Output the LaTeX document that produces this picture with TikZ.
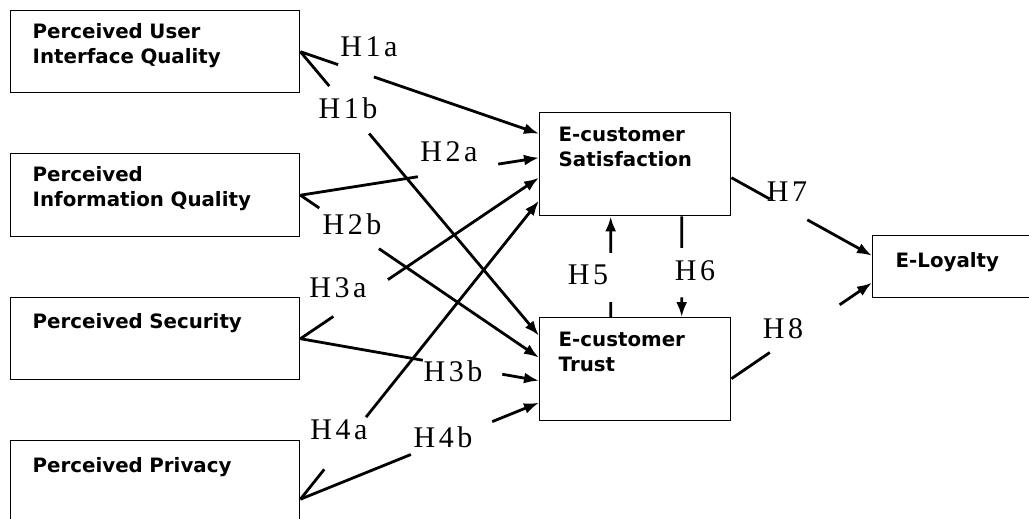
\documentclass[tikz,border=0pt]{standalone}
\usepackage{fontspec}
\newfontfamily\boxfont{DejaVu Sans}
\newfontfamily\hypfont[LetterSpace=12]{Liberation Serif}
\usetikzlibrary{arrows.meta,calc}

\tikzset{
    construct/.style={draw, rectangle, line width=1.4pt, anchor=north west,
        inner ysep=0pt, inner xsep=22pt, align=left,
        font=\boxfont\bfseries\fontsize{19.8}{25}\selectfont},
    hlabel/.style={inner sep=0pt, font=\hypfont\fontsize{30}{30}\selectfont},
    hyp/.style={line width=2.8pt, -{Latex[length=15pt,width=11pt]}}
}

\begin{document}
\begin{tikzpicture}[x=1pt,y=-1pt]
    \useasboundingbox (0,0) rectangle (1029,519);
    \clip (0,0) rectangle (1029,519);

    % constructs
    \node[construct, text width=245pt, text height=28pt, text depth=54pt] (uiq) at (10,10) {Perceived User\\Interface Quality};
    \node[construct, text width=245pt, text height=28pt, text depth=55pt] (iq)  at (10,153) {Perceived\\Information Quality};
    \node[construct, text width=245pt, text height=31pt, text depth=51pt] (sec) at (10,297) {Perceived Security};
    \node[construct, text width=245pt, text height=32pt, text depth=85pt] (pri) at (10,440) {Perceived Privacy};

    \node[construct, inner xsep=19pt, text width=153pt, text height=29pt, text depth=74pt] (sat) at (539,112) {E-customer\\Satisfaction};
    \node[construct, inner xsep=19pt, text width=153pt, text height=29pt, text depth=74pt] (tru) at (539,317) {E-customer\\Trust};
    \node[construct, inner xsep=23pt, text width=200pt, text height=32pt, text depth=30pt] (loy) at (872,235) {E-Loyalty};

    % hypothesis labels
    \node[hlabel] (h1a) at (369,47)  {H1a};
    \node[hlabel] (h1b) at (348,108) {H1b};
    \node[hlabel] (h2a) at (449,152) {H2a};
    \node[hlabel] (h2b) at (352,224) {H2b};
    \node[hlabel] (h3a) at (338,288) {H3a};
    \node[hlabel] (h3b) at (453,371) {H3b};
    \node[hlabel] (h4a) at (339,430) {H4a};
    \node[hlabel] (h4b) at (443,437) {H4b};
    \node[hlabel] (h5)  at (588,275) {H5};
    \node[hlabel] (h6)  at (695,271) {H6};
    \node[hlabel] (h7)  at (787,192) {H7};
    \node[hlabel] (h8)  at (783,329) {H8};

    % where the arrows meet the boxes
    \coordinate (sat-a) at ([yshift=30.5pt]sat.west);
    \coordinate (sat-b) at ([yshift=6.5pt]sat.west);
    \coordinate (sat-c) at ([yshift=-13.5pt]sat.west);
    \coordinate (sat-d) at ([yshift=-36.5pt]sat.west);
    \coordinate (tru-a) at ([yshift=33.5pt]tru.west);
    \coordinate (tru-b) at ([yshift=11.5pt]tru.west);
    \coordinate (tru-c) at ([yshift=-11.5pt]tru.west);
    \coordinate (tru-d) at ([yshift=-33.5pt]tru.west);
    \coordinate (sat-s5) at ([xshift=-24.5pt]sat.south);
    \coordinate (tru-n5) at ([xshift=-24.5pt]tru.north);
    \coordinate (sat-s6) at ([xshift=46.5pt]sat.south);
    \coordinate (tru-n6) at ([xshift=46.5pt]tru.north);
    \coordinate (sat-out) at ([yshift=-13.5pt]sat.east);
    \coordinate (tru-out) at ([yshift=-9.5pt]tru.east);
    \coordinate (loy-a) at ([yshift=11pt]loy.west);
    \coordinate (loy-b) at ([yshift=-16pt]loy.west);

    % hypotheses, each broken where its label sits
    \draw[hyp] (uiq.east) -- ($(uiq.east)!.158!(sat-a)$) ($(uiq.east)!.308!(sat-a)$) -- (sat-a);
    \draw[hyp] (uiq.east) -- ($(uiq.east)!.121!(tru-a)$) ($(uiq.east)!.288!(tru-a)$) -- (tru-a);
    \draw[hyp] (iq.east) -- ($(iq.east)!.492!(sat-b)$) ($(iq.east)!.829!(sat-b)$) -- (sat-b);
    \draw[hyp] (iq.east) -- ($(iq.east)!.079!(tru-b)$) ($(iq.east)!.329!(tru-b)$) -- (tru-b);
    \draw[hyp] (sec.east) -- ($(sec.east)!.138!(sat-c)$) ($(sec.east)!.367!(sat-c)$) -- (sat-c);
    \draw[hyp] (sec.east) -- ($(sec.east)!.513!(tru-c)$) ($(sec.east)!.846!(tru-c)$) -- (tru-c);
    \draw[hyp] (pri.east) -- ($(pri.east)!.1!(sat-d)$) ($(pri.east)!.275!(sat-d)$) -- (sat-d);
    \draw[hyp] (pri.east) -- ($(pri.east)!.463!(tru-d)$) ($(pri.east)!.804!(tru-d)$) -- (tru-d);

    \draw[hyp] (tru-n5) -- ($(tru-n5)!.147!(sat-s5)$) ($(tru-n5)!.637!(sat-s5)$) -- (sat-s5);
    \draw[hyp] (sat-s6) -- ($(sat-s6)!.314!(tru-n6)$) ($(sat-s6)!.804!(tru-n6)$) -- (tru-n6);

    \draw[hyp] (sat-out) -- ($(sat-out)!.273!(loy-a)$) ($(sat-out)!.54!(loy-a)$) -- (loy-a);
    \draw[hyp] (tru-out) -- ($(tru-out)!.273!(loy-b)$) ($(tru-out)!.77!(loy-b)$) -- (loy-b);
\end{tikzpicture}
\end{document}
